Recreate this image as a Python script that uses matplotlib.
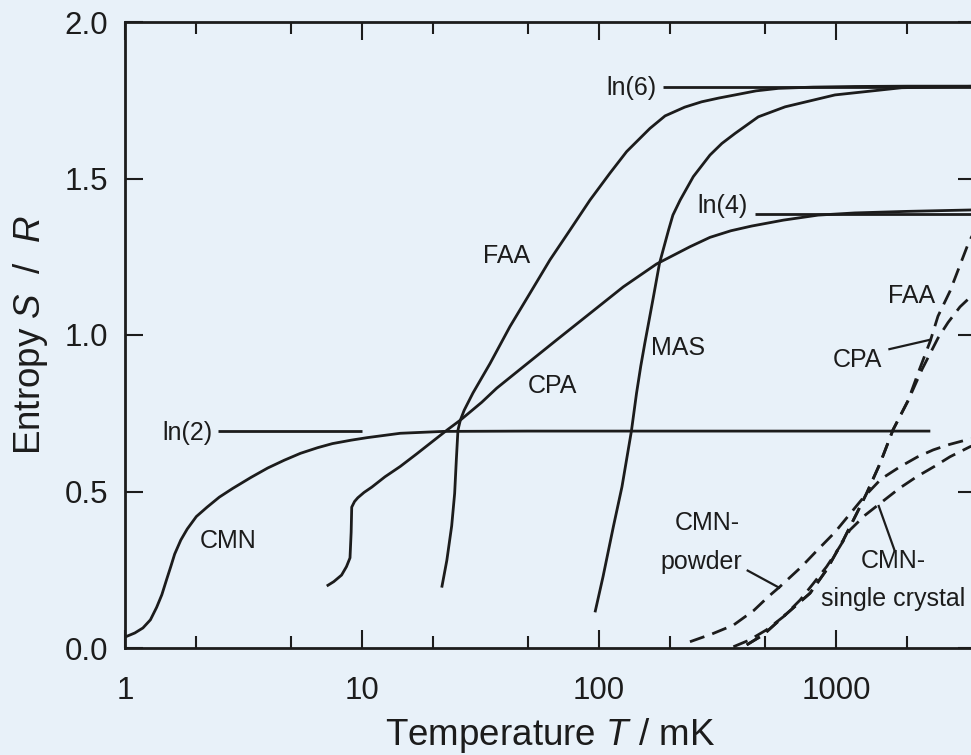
import numpy as np
import matplotlib
matplotlib.use("Agg")
import matplotlib.pyplot as plt
from matplotlib.ticker import FixedLocator, FixedFormatter, NullFormatter

plt.rcParams['font.family'] = ['Liberation Sans', 'DejaVu Sans']
plt.rcParams['mathtext.fontset'] = 'custom'
plt.rcParams['mathtext.rm'] = 'Liberation Sans'
plt.rcParams['mathtext.it'] = 'Liberation Sans:italic'

# ---------------- data (T in mK, S/R) ----------------
cmn_T = [1.0, 1.1, 1.19, 1.28, 1.36, 1.43, 1.5, 1.56, 1.62, 1.72, 1.83, 2.0, 2.22, 2.5, 2.85,
         3.4, 4.0, 4.7, 5.5, 6.5, 7.5, 9.0, 10.5, 14.5, 22, 50, 200, 1000, 2500]
cmn_S = [0.035, 0.048, 0.064, 0.09, 0.13, 0.17, 0.22, 0.26, 0.30, 0.345, 0.38, 0.42, 0.45, 0.482, 0.51,
         0.545, 0.575, 0.60, 0.622, 0.64, 0.653, 0.664, 0.672, 0.686, 0.692, 0.693, 0.693, 0.693, 0.693]

cpa_T = [7.1, 7.6, 8.2, 8.6, 8.9, 9.0, 9.05, 9.3, 9.6, 10.2, 11.0, 12.5, 14.5, 17, 20, 23, 26, 32, 37,
         48, 66.2, 91.6, 126.7, 175, 242, 294, 360, 440, 600, 840, 1200, 2000, 4000]
cpa_S = [0.198, 0.212, 0.233, 0.26, 0.288, 0.37, 0.45, 0.468, 0.48, 0.497, 0.514, 0.547, 0.58, 0.62,
         0.662, 0.698, 0.728, 0.785, 0.830, 0.899, 0.984, 1.069, 1.154, 1.227, 1.282, 1.312, 1.333, 1.348,
         1.367, 1.383, 1.39, 1.395, 1.40]

faa_T = [21.7, 22.8, 23.9, 24.6, 25.0, 25.4, 26.0, 27.0, 29.4, 34.7, 42.1, 51.1, 62.1, 75.4, 91.6,
         111.2, 130.8, 164, 190, 230, 271, 320, 375, 460, 571, 800, 1200, 2000, 4000]
faa_S = [0.193, 0.28, 0.39, 0.494, 0.60, 0.696, 0.728, 0.76, 0.815, 0.909, 1.027, 1.133, 1.24, 1.335,
         1.431, 1.517, 1.586, 1.66, 1.70, 1.728, 1.745, 1.757, 1.767, 1.78, 1.788, 1.792, 1.794, 1.795, 1.795]

mas_T = [96.2, 104, 115, 125, 137, 144, 150, 156, 162.5, 169.5, 180, 196.5, 205, 220, 250, 294, 330, 375,
         470, 610, 990, 1893, 4000]
mas_S = [0.114, 0.228, 0.388, 0.515, 0.693, 0.814, 0.90, 0.973, 1.045, 1.12, 1.229, 1.335, 1.383, 1.431,
         1.506, 1.575, 1.612, 1.644, 1.697, 1.729, 1.767, 1.79, 1.795]

# dashed curves
powder_T = [242, 300, 369, 450, 518, 580, 716, 828, 990, 1150, 1303, 1550, 1862, 2200, 2573, 3000, 3556, 4000]
powder_S = [0.02, 0.045, 0.073, 0.12, 0.164, 0.196, 0.26, 0.31, 0.37, 0.43, 0.48, 0.54, 0.579, 0.61,
            0.633, 0.65, 0.665, 0.672]

crystal_T = [369, 430, 509, 600, 705, 800, 913, 1030, 1145, 1330, 1535, 1850, 2188, 2600, 3027, 3675, 4000]
crystal_S = [0.004, 0.025, 0.058, 0.10, 0.153, 0.205, 0.26, 0.32, 0.377, 0.425, 0.462, 0.51, 0.547,
             0.58, 0.611, 0.643, 0.652]

faa_d_T = [420, 493, 620, 777, 913, 1074, 1223, 1346, 1535, 1740, 2013, 2250, 2497, 2693, 3027, 3606, 4000]
faa_d_S = [0.01, 0.042, 0.11, 0.175, 0.25, 0.345, 0.43, 0.494, 0.59, 0.697, 0.79, 0.89, 0.98, 1.06,
           1.14, 1.29, 1.36]

cpa_d_T = [420, 493, 620, 777, 913, 1074, 1223, 1346, 1535, 1740, 2013, 2306, 2693, 2970, 3337, 3675, 4000]
cpa_d_S = [0.01, 0.042, 0.11, 0.175, 0.25, 0.345, 0.43, 0.494, 0.59, 0.697, 0.79, 0.89, 0.99, 1.04,
           1.09, 1.12, 1.15]

# reference levels ln(2), ln(4), ln(6)
ref_labels = ['ln(2)', 'ln(4)', 'ln(6)']
ref_values = [np.log(2), np.log(4), np.log(6)]
ref_start = [2.47, 455, 186]
ref_end = [10, 4000, 4000]

x_ticks = [1, 10, 100, 1000]
x_ticklabels = ['1', '10', '100', '1000']
x_minor = [2, 5, 20, 50, 200, 500, 2000, 5000]
y_ticks = [0.0, 0.5, 1.0, 1.5, 2.0]
y_ticklabels = ['0.0', '0.5', '1.0', '1.5', '2.0']

BG = '#e8f1f9'
INK = '#1c1c1c'

fig = plt.figure(figsize=(9.71, 7.55), dpi=100)
fig.patch.set_facecolor(BG)
ax = fig.add_axes([125 / 971, 107 / 755, 851 / 971, 626 / 755])
ax.set_facecolor(BG)
ax.set_xscale('log')
ax.set_xlim(1, 10 ** (851 / 237))
ax.set_ylim(0, 2.0)

lw = 2.0
for T, S in [(cmn_T, cmn_S), (cpa_T, cpa_S), (faa_T, faa_S), (mas_T, mas_S)]:
    ax.plot(T, S, color=INK, lw=lw, solid_capstyle='butt', solid_joinstyle='round')

for lab, val, t0, t1 in zip(ref_labels, ref_values, ref_start, ref_end):
    ax.plot([t0, t1], [val, val], color=INK, lw=lw, solid_capstyle='butt')

for T, S in [(powder_T, powder_S), (crystal_T, crystal_S), (faa_d_T, faa_d_S), (cpa_d_T, cpa_d_S)]:
    ax.plot(T, S, color=INK, lw=lw, dashes=(5.5, 3.0))

fs = 18
# reference level labels
ax.text(2.33, 0.688, 'ln(2)', ha='right', va='center', fontsize=fs, color=INK)
ax.text(425, 1.412, 'ln(4)', ha='right', va='center', fontsize=fs, color=INK)
ax.text(174, 1.79, 'ln(6)', ha='right', va='center', fontsize=fs, color=INK)

# curve labels
ax.text(2.72, 0.319, 'CMN', ha='center', va='baseline', fontsize=fs, color=INK)
ax.text(40.9, 1.229, 'FAA', ha='center', va='baseline', fontsize=fs, color=INK)
ax.text(63.4, 0.814, 'CPA', ha='center', va='baseline', fontsize=fs, color=INK)
ax.text(215, 0.936, 'MAS', ha='center', va='baseline', fontsize=fs, color=INK)
ax.text(2089, 1.101, 'FAA', ha='center', va='baseline', fontsize=fs, color=INK)
ax.text(1227, 0.899, 'CPA', ha='center', va='baseline', fontsize=fs, color=INK)
ax.text(394, 0.377, 'CMN-', ha='right', va='baseline', fontsize=fs, color=INK)
ax.text(401, 0.252, 'powder', ha='right', va='baseline', fontsize=fs, color=INK)
ax.text(1741, 0.255, 'CMN-', ha='center', va='baseline', fontsize=fs, color=INK)
ax.text(1741, 0.134, 'single crystal', ha='center', va='baseline', fontsize=fs, color=INK)

# leader lines
leaders = [((420, 0.249), (581, 0.191)),
           ((1774, 0.308), (1509, 0.457)),
           ((1663, 0.954), (2535, 0.986))]
for (t0, s0), (t1, s1) in leaders:
    ax.plot([t0, t1], [s0, s1], color=INK, lw=1.6, solid_capstyle='butt')

# axes styling
for sp in ax.spines.values():
    sp.set_linewidth(2.0)
    sp.set_color(INK)

ax.xaxis.set_major_locator(FixedLocator(x_ticks))
ax.xaxis.set_major_formatter(FixedFormatter(x_ticklabels))
ax.xaxis.set_minor_locator(FixedLocator(x_minor))
ax.xaxis.set_minor_formatter(NullFormatter())
ax.yaxis.set_major_locator(FixedLocator(y_ticks))
ax.yaxis.set_major_formatter(FixedFormatter(y_ticklabels))

ax.tick_params(which='both', direction='in', top=True, right=True, color=INK, width=1.5)
ax.tick_params(which='major', length=13, labelsize=22.5, labelcolor=INK)
ax.tick_params(which='minor', length=8.5)
ax.tick_params(axis='x', which='major', pad=20)
ax.tick_params(axis='y', which='major', pad=12)

ax.set_xlabel('Temperature $T$ / mK', fontsize=26.5, color=INK)
ax.set_ylabel('Entropy $S$  /  $R$', fontsize=26.5, color=INK)
ax.xaxis.set_label_coords((550 - 125) / 851, -(716 - 648) / 626)
ax.yaxis.set_label_coords((50 - 125) / 851, 0.5)

fig.savefig('out.png', dpi=100, facecolor=BG)
